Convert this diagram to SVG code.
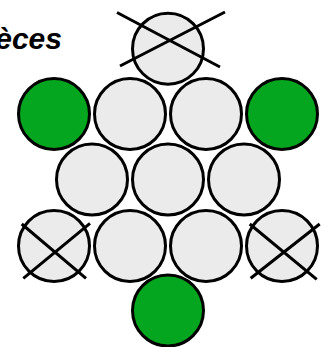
<svg xmlns="http://www.w3.org/2000/svg" width="321" height="347" viewBox="0 0 321 347">
<style>
.c{stroke:#000;stroke-width:3;fill:#ebebeb}
.g{fill:#03a61e}
.x{stroke:#000;stroke-width:3;fill:none;stroke-linecap:butt}
.t{font-family:"Liberation Sans",Arial,sans-serif;font-weight:bold;font-style:italic;font-size:30px;fill:#000}
</style>
<rect width="321" height="347" fill="#fff"/>
<text class="t" x="62" y="49" text-anchor="end">Pièces</text>
<g id="n0"><circle class="c" cx="168" cy="48.7" r="35.5"/><path class="x" d="M117 12.5L220 67M120 66L225 12"/></g>
<g id="n1"><circle class="c g" cx="54" cy="114" r="35.5"/></g>
<g id="n2"><circle class="c" cx="130" cy="114" r="35.5"/></g>
<g id="n3"><circle class="c" cx="206" cy="114" r="35.5"/></g>
<g id="n4"><circle class="c g" cx="282" cy="114" r="35.5"/></g>
<g id="n5"><circle class="c" cx="92" cy="179.5" r="35.5"/></g>
<g id="n6"><circle class="c" cx="168" cy="179.5" r="35.5"/></g>
<g id="n7"><circle class="c" cx="244" cy="179.5" r="35.5"/></g>
<g id="n8"><circle class="c" cx="54" cy="246" r="35.5"/><path class="x" d="M21.7 224L86 278.3M23.3 278.3L90 223.3"/></g>
<g id="n9"><circle class="c" cx="130" cy="246" r="35.5"/></g>
<g id="n10"><circle class="c" cx="206" cy="246" r="35.5"/></g>
<g id="n11"><circle class="c" cx="282" cy="246" r="35.5"/><path class="x" d="M249.7 224L316.7 279.3M250.7 278.3L319.7 224"/></g>
<g id="n12"><circle class="c g" cx="168" cy="310.5" r="35.5"/></g>
<g id="connectors"></g>
</svg>
